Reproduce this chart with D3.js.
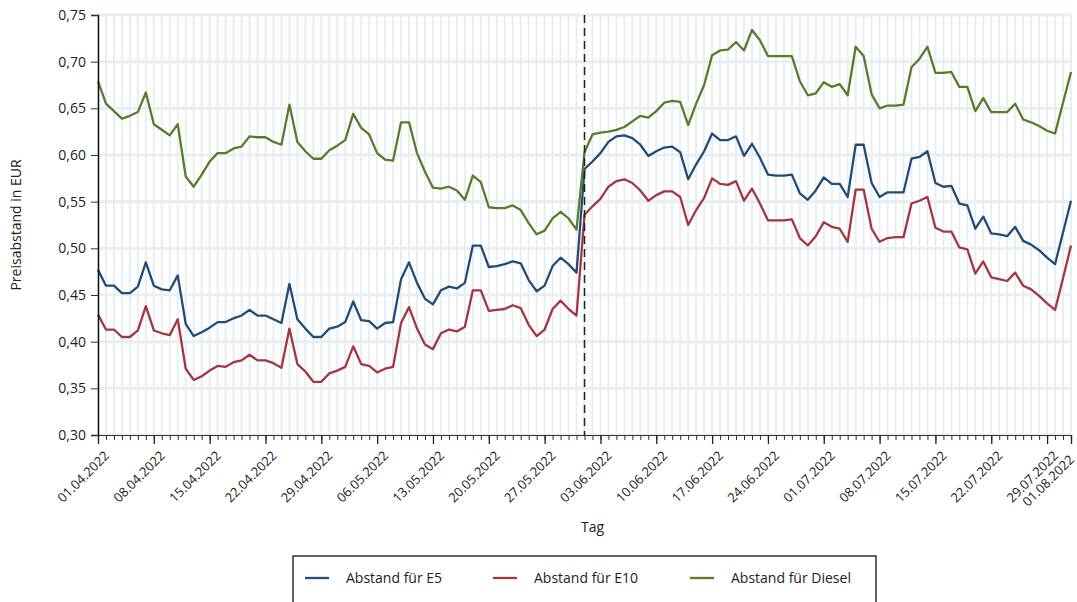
<!DOCTYPE html>
<html>
<head>
<meta charset="utf-8">
<script src="https://cdn.jsdelivr.net/npm/d3@7"></script>
<style>
  body { margin: 0; background: #fff; }
  svg { font-family: "Open Sans", "Noto Sans", sans-serif; }
</style>
</head>
<body>
<svg id="drawing_region"></svg>
<script>
// Tagesreihe 01.04.2022 - 01.08.2022
const startDate = new Date(2022, 3, 1);
const endDate = new Date(2022, 7, 1);
const days = d3.timeDay.range(startDate, d3.timeDay.offset(endDate, 1));

const e5 = [
  0.477, 0.460, 0.460, 0.452, 0.452, 0.459, 0.485, 0.460, 0.456, 0.455,
  0.471, 0.419, 0.406, 0.410, 0.415, 0.421, 0.421, 0.425, 0.428, 0.434,
  0.428, 0.428, 0.424, 0.420, 0.462, 0.424, 0.414, 0.405, 0.405, 0.414,
  0.416, 0.421, 0.443, 0.423, 0.422, 0.414, 0.420, 0.421, 0.467, 0.485,
  0.463, 0.446, 0.440, 0.455, 0.459, 0.457, 0.463, 0.503, 0.503, 0.480,
  0.481, 0.483, 0.486, 0.484, 0.466, 0.454, 0.460, 0.481, 0.490, 0.483,
  0.474, 0.585, 0.593, 0.602, 0.614, 0.620, 0.621, 0.618, 0.611, 0.599,
  0.604, 0.608, 0.609, 0.603, 0.574, 0.590, 0.604, 0.623, 0.616, 0.616,
  0.620, 0.599, 0.612, 0.597, 0.579, 0.578, 0.578, 0.579, 0.559, 0.552,
  0.562, 0.576, 0.569, 0.569, 0.555, 0.611, 0.611, 0.570, 0.555, 0.560,
  0.560, 0.560, 0.596, 0.598, 0.604, 0.570, 0.566, 0.567, 0.548, 0.546,
  0.521, 0.534, 0.516, 0.515, 0.513, 0.523, 0.508, 0.504, 0.498, 0.490,
  0.483, 0.517, 0.551
];
const e10 = [
  0.429, 0.413, 0.413, 0.405, 0.405, 0.412, 0.438, 0.412, 0.409, 0.407,
  0.424, 0.371, 0.359, 0.363, 0.369, 0.374, 0.373, 0.378, 0.380, 0.386,
  0.380, 0.380, 0.377, 0.372, 0.414, 0.376, 0.368, 0.357, 0.357, 0.366,
  0.369, 0.373, 0.395, 0.376, 0.374, 0.367, 0.371, 0.373, 0.420, 0.437,
  0.414, 0.397, 0.392, 0.409, 0.413, 0.411, 0.416, 0.455, 0.455, 0.433,
  0.434, 0.435, 0.439, 0.436, 0.418, 0.406, 0.413, 0.435, 0.444, 0.435,
  0.428, 0.536, 0.545, 0.553, 0.566, 0.572, 0.574, 0.570, 0.562, 0.551,
  0.557, 0.561, 0.561, 0.555, 0.525, 0.541, 0.554, 0.575, 0.569, 0.568,
  0.572, 0.551, 0.564, 0.548, 0.530, 0.530, 0.530, 0.531, 0.511, 0.503,
  0.513, 0.528, 0.523, 0.521, 0.507, 0.563, 0.563, 0.521, 0.507, 0.511,
  0.512, 0.512, 0.548, 0.551, 0.555, 0.522, 0.518, 0.518, 0.501, 0.499,
  0.473, 0.486, 0.469, 0.467, 0.465, 0.474, 0.460, 0.456, 0.449, 0.441,
  0.434, 0.468, 0.503
];
const diesel = [
  0.679, 0.655, 0.647, 0.639, 0.642, 0.646, 0.667, 0.633, 0.627, 0.621,
  0.633, 0.577, 0.566, 0.579, 0.593, 0.602, 0.602, 0.607, 0.609, 0.620,
  0.619, 0.619, 0.614, 0.611, 0.654, 0.614, 0.604, 0.596, 0.596, 0.605,
  0.610, 0.616, 0.644, 0.629, 0.622, 0.602, 0.595, 0.594, 0.635, 0.635,
  0.602, 0.582, 0.565, 0.564, 0.566, 0.562, 0.552, 0.578, 0.571, 0.544,
  0.543, 0.543, 0.546, 0.541, 0.527, 0.515, 0.519, 0.532, 0.539, 0.532,
  0.520, 0.603, 0.622, 0.624, 0.625, 0.627, 0.630, 0.636, 0.642, 0.640,
  0.647, 0.656, 0.658, 0.657, 0.632, 0.655, 0.675, 0.707, 0.712, 0.713,
  0.721, 0.712, 0.734, 0.723, 0.706, 0.706, 0.706, 0.706, 0.679, 0.664,
  0.666, 0.678, 0.673, 0.676, 0.664, 0.716, 0.706, 0.665, 0.650, 0.653,
  0.653, 0.654, 0.694, 0.703, 0.716, 0.688, 0.688, 0.689, 0.673, 0.673,
  0.647, 0.661, 0.646, 0.646, 0.646, 0.655, 0.638, 0.635, 0.631, 0.626,
  0.623, 0.656, 0.689
];

const series = [
  { name: "Abstand für E5", values: e5, color: "#1f4d78" },
  { name: "Abstand für E10", values: e10, color: "#a3363f" },
  { name: "Abstand für Diesel", values: diesel, color: "#5b7a2c" }
];

const yTicks = [0.30, 0.35, 0.40, 0.45, 0.50, 0.55, 0.60, 0.65, 0.70, 0.75];
const labelDates = d3.timeDay.range(startDate, endDate, 7).concat([endDate]);
const markerDate = new Date(2022, 5, 1);

const config = {
  width: 1077,
  height: 602,
  margin: { top: 15, right: 6, bottom: 167, left: 98 }
};

const svg = d3.select("#drawing_region")
  .attr("width", config.width)
  .attr("height", config.height);

const inner_width = config.width - config.margin.left - config.margin.right;
const inner_height = config.height - config.margin.top - config.margin.bottom;

const chart = svg.append("g")
  .attr("transform", `translate(${config.margin.left}, ${config.margin.top})`);

const xscale = d3.scaleTime()
  .domain([startDate, endDate])
  .range([0, inner_width]);

const yscale = d3.scaleLinear()
  .domain([0.30, 0.75])
  .range([inner_height, 0]);

const fmtDate = d3.timeFormat("%d.%m.%Y");
const fmtNum = d => d3.format(".2f")(d).replace(".", ",");

// grid
const grid = chart.append("g");
grid.selectAll("line.v")
  .data(days)
  .join("line")
  .attr("x1", d => xscale(d)).attr("x2", d => xscale(d))
  .attr("y1", 0).attr("y2", inner_height)
  .attr("stroke", "#e7eff3").attr("stroke-width", 2);
grid.selectAll("line.h")
  .data(yTicks)
  .join("line")
  .attr("x1", 0).attr("x2", inner_width)
  .attr("y1", d => yscale(d)).attr("y2", d => yscale(d))
  .attr("stroke", "#e7eff3").attr("stroke-width", 3);

// lines
const line = d3.line()
  .x((d, i) => xscale(days[i]))
  .y(d => yscale(d));

chart.selectAll("path.series")
  .data(series)
  .join("path")
  .attr("class", "series")
  .attr("fill", "none")
  .attr("stroke", d => d.color)
  .attr("stroke-width", 2.3)
  .attr("stroke-linejoin", "round")
  .attr("d", d => line(d.values));

// dashed marker
chart.append("line")
  .attr("x1", xscale(markerDate)).attr("x2", xscale(markerDate))
  .attr("y1", 0).attr("y2", inner_height)
  .attr("stroke", "#222").attr("stroke-width", 1.5)
  .attr("stroke-dasharray", "8,5");

// y axis
const yaxis_group = chart.append("g")
  .call(d3.axisLeft(yscale).tickValues(yTicks).tickFormat(fmtNum).tickSize(7).tickPadding(5));
yaxis_group.select(".domain").attr("stroke", "#111").attr("stroke-width", 1.5);
yaxis_group.selectAll(".tick line").attr("stroke", "#333");
yaxis_group.selectAll("text").attr("font-size", 14).attr("fill", "#222")
  .attr("font-family", "Open Sans, sans-serif");

// x axis: minor daily ticks
const xminor = chart.append("g")
  .attr("transform", `translate(0, ${inner_height})`)
  .call(d3.axisBottom(xscale).tickValues(days).tickSize(5).tickFormat(""));
xminor.select(".domain").attr("stroke", "#333").attr("stroke-width", 1.2);
xminor.selectAll(".tick line").attr("stroke", "#333");

const xmajor = chart.append("g")
  .attr("transform", `translate(0, ${inner_height})`)
  .call(d3.axisBottom(xscale).tickValues(labelDates).tickSize(9).tickFormat(fmtDate));
xmajor.select(".domain").remove();
xmajor.selectAll(".tick line").attr("stroke", "#222").attr("stroke-width", 1.3);
xmajor.selectAll("text")
  .attr("font-size", 13).attr("fill", "#222")
  .attr("font-family", "Open Sans, sans-serif")
  .attr("text-anchor", "end")
  .attr("dy", 0)
  .attr("transform", (d, i) => i === labelDates.length - 1
    ? "translate(-5, 17) rotate(-45)"
    : "translate(3, 13) rotate(-45)");

// axis titles
svg.append("text")
  .attr("transform", `translate(21, ${config.margin.top + inner_height / 2}) rotate(-90)`)
  .attr("text-anchor", "middle")
  .attr("font-size", 14).attr("fill", "#222")
  .text("Preisabstand in EUR");

svg.append("text")
  .attr("x", config.margin.left + xscale(new Date(2022, 5, 2)))
  .attr("y", 532)
  .attr("text-anchor", "middle")
  .attr("font-size", 14).attr("fill", "#222")
  .text("Tag");

// legend
const legend = svg.append("g").attr("transform", "translate(293, 556)");
legend.append("rect")
  .attr("x", 0).attr("y", 0).attr("width", 583).attr("height", 60)
  .attr("fill", "#fff").attr("stroke", "#111").attr("stroke-width", 1.3);
const legendX = [12, 200, 397];
const items = legend.selectAll("g.item")
  .data(series)
  .join("g")
  .attr("transform", (d, i) => `translate(${legendX[i]}, 22)`);
items.append("line")
  .attr("x1", 0).attr("x2", 24).attr("y1", 0).attr("y2", 0)
  .attr("stroke", d => d.color).attr("stroke-width", 2.3);
items.append("text")
  .attr("x", 41).attr("y", 5)
  .attr("font-size", 14).attr("fill", "#222")
  .text(d => d.name);
</script>
</body>
</html>
